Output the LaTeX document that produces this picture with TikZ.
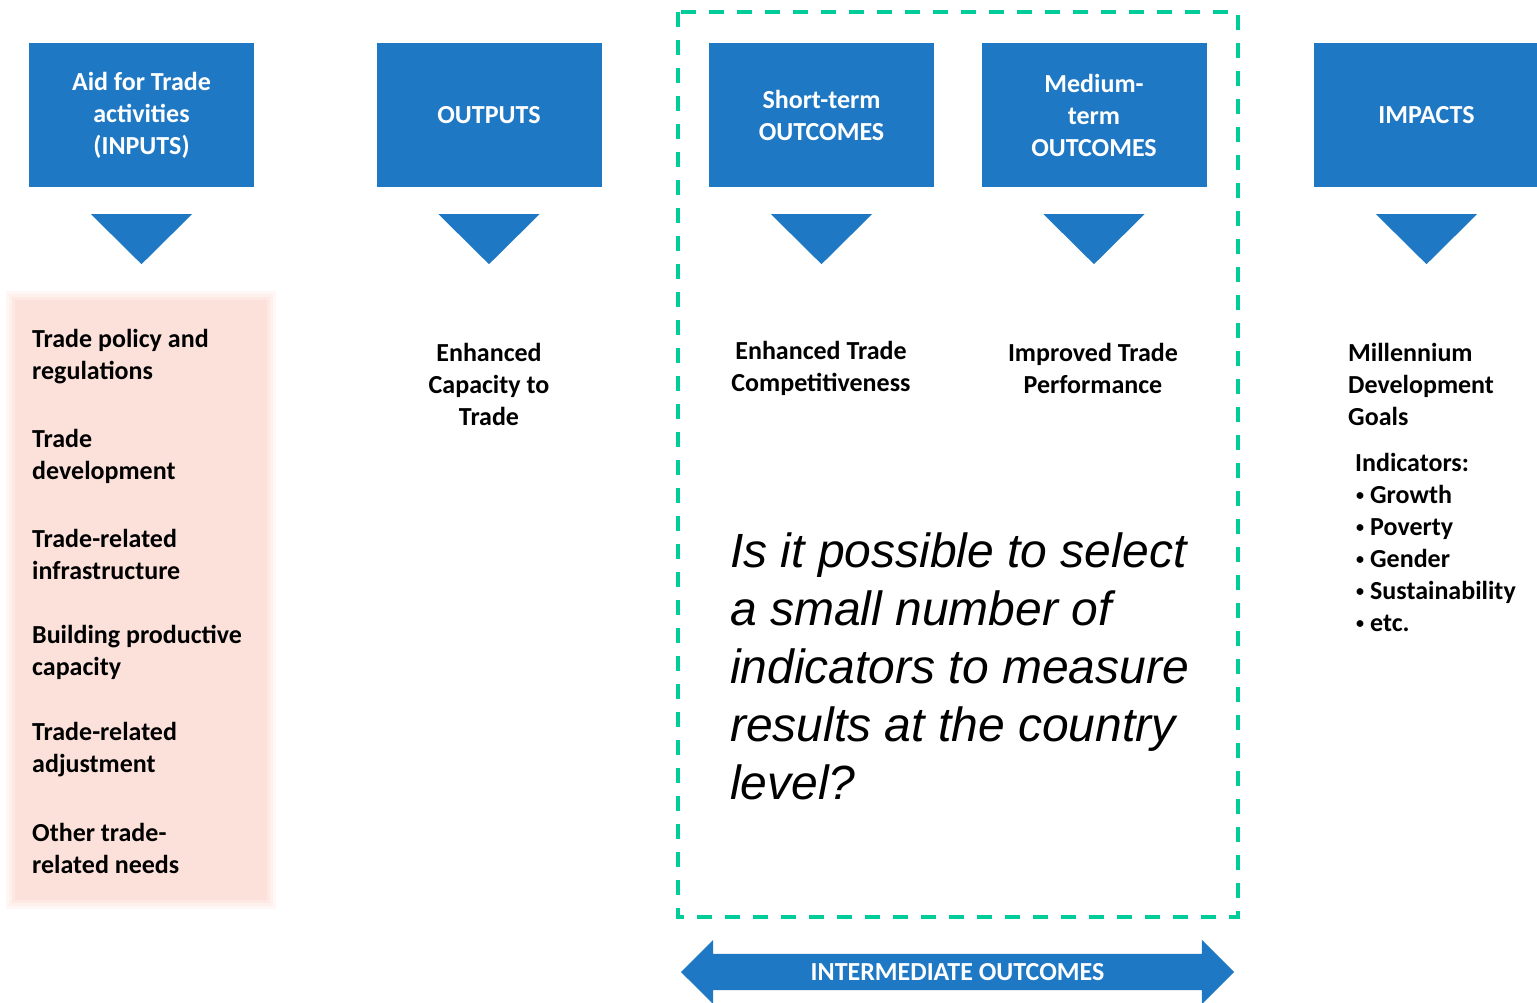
\documentclass[tikz,border=0pt]{standalone}
\usepackage{fontspec}
\setmainfont{Carlito}
\newfontfamily\questionfont{Liberation Sans}
\usetikzlibrary{shapes.arrows, positioning}
\definecolor{stageblue}{RGB}{31,120,196}
\definecolor{needpink}{RGB}{252,225,219}
\definecolor{dashgreen}{RGB}{0,204,153}
\newcommand{\dotitem}{\hspace{1pt}\raisebox{3pt}{\fontsize{16}{16}\selectfont\textbullet}\hspace{6pt}}

\begin{document}
\begin{tikzpicture}[
    x=1pt, y=-1pt,
    stage/.style={rectangle, fill=stageblue, text=white, font=\bfseries\fontsize{26}{32}\selectfont, align=center, minimum width=225pt, minimum height=144pt, inner sep=0pt},
    item/.style={font=\bfseries\fontsize{26}{32}\selectfont, align=left, anchor=west, inner sep=0pt},
    result/.style={font=\bfseries\fontsize{26}{32}\selectfont, align=center, inner sep=0pt},
    question/.style={font=\questionfont\itshape\fontsize{48}{58}\selectfont, align=left, anchor=west, inner sep=0pt},
    drop/.style={fill=stageblue},
    band/.style={double arrow, fill=stageblue, text=white, font=\bfseries\fontsize{26}{32}\selectfont, minimum height=553pt, double arrow head extend=14pt, double arrow tip angle=90, inner xsep=0pt, inner ysep=9.5pt, text height=17pt, text depth=0pt}
]
    \clip (0,0) rectangle (1537,1003);

    % stages
    \node[stage] (inputs) at (141.5,115) {Aid for Trade\\activities\\(INPUTS)};
    \node[stage] (outputs) at (489,115) {OUTPUTS};
    \node[stage] (short) at (821.5,115) {Short-term\\OUTCOMES};
    \node[stage] (medium) at (1094,115) {Medium-\\term\\OUTCOMES};
    \node[stage] (impacts) at (1426.5,115) {IMPACTS};

    \fill[drop] ([xshift=-50.5pt,yshift=-27pt]inputs.south) -- ++(101,0) -- ++(-50.5,50) -- cycle;
    \fill[drop] ([xshift=-50.5pt,yshift=-27pt]outputs.south) -- ++(101,0) -- ++(-50.5,50) -- cycle;
    \fill[drop] ([xshift=-50.5pt,yshift=-27pt]short.south) -- ++(101,0) -- ++(-50.5,50) -- cycle;
    \fill[drop] ([xshift=-50.5pt,yshift=-27pt]medium.south) -- ++(101,0) -- ++(-50.5,50) -- cycle;
    \fill[drop] ([xshift=-50.5pt,yshift=-27pt]impacts.south) -- ++(101,0) -- ++(-50.5,50) -- cycle;

    % soft pink panel
    \fill[needpink, opacity=0.25] (6,291) rectangle (276,909);
    \fill[needpink, opacity=0.35] (9,294) rectangle (273,906);
    \fill[needpink, opacity=0.5] (12,297) rectangle (270,903);
    \fill[needpink] (15,300) rectangle (267,900);

    \node[item] (policy) at (32,357) {Trade policy and\\regulations};
    \node[item] (develop) at (32,456) {Trade\\development};
    \node[item] (infra) at (32,554) {Trade-related\\infrastructure};
    \node[item] (building) at (32,652) {Building productive\\capacity};
    \node[item] (adjust) at (32,750) {Trade-related\\adjustment};
    \node[item] (other) at (32,848) {Other trade-\\related needs};

    \node[result] (capacity) at (489,384) {Enhanced\\Capacity to\\Trade};
    \node[result] (compet) at (821,368) {Enhanced Trade\\Competitiveness};
    \node[result] (perform) at (1093,368) {Improved Trade\\Performance};

    \node[item] (goals) at (1348,384) {Millennium\\Development\\Goals};
    \node[item] (indicators) at (1355,542) {Indicators:\\\dotitem Growth\\\dotitem Poverty\\\dotitem Gender\\\dotitem Sustainability\\\dotitem etc.};

    \node[question] (ask) at (730,666) {Is it possible to select\\a small number of\\indicators to measure\\results at the country\\level?};

    % intermediate outcomes frame
    \draw[dashgreen, line width=3.5pt, dash pattern=on 15pt off 13pt] (678,12) rectangle (1238,917);
    \node[band] (intermediate) at (957.5,972) {INTERMEDIATE OUTCOMES};
\end{tikzpicture}
\end{document}
